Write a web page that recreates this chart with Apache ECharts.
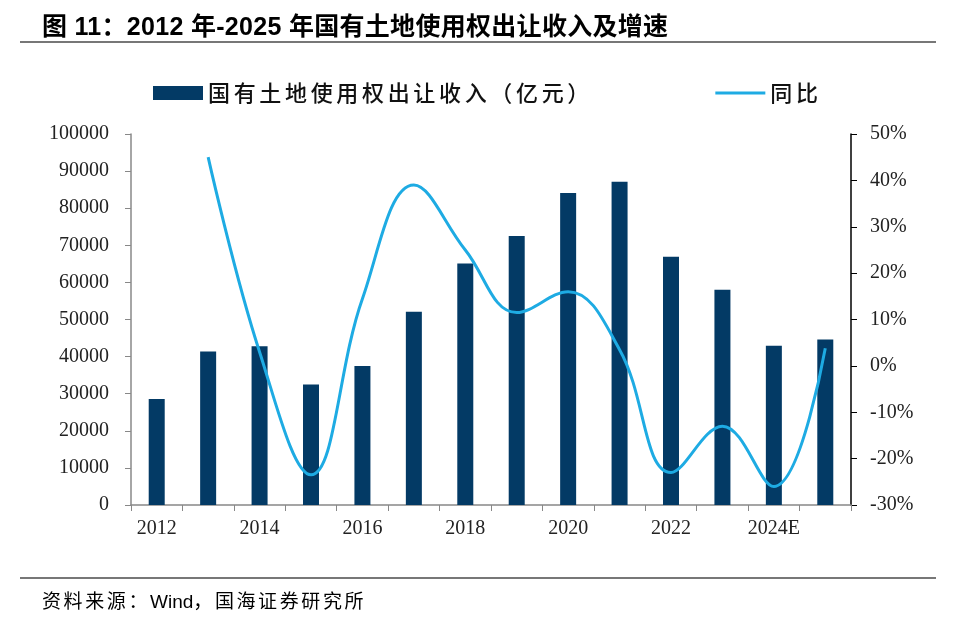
<!DOCTYPE html>
<html><head><meta charset="utf-8">
<script src="https://cdn.jsdelivr.net/npm/echarts@6/dist/echarts.min.js"></script>
<style>
html,body{margin:0;padding:0;background:#fff;}
#wrap{position:relative;width:960px;height:621px;}
#chart{position:absolute;left:0;top:0;width:960px;height:621px;}
.title{position:absolute;left:42px;top:6px;font-family:"Liberation Sans","Noto Sans CJK SC",sans-serif;font-weight:bold;font-size:25px;letter-spacing:0.3px;color:#000;}
.hl{position:absolute;left:20px;width:916px;height:2px;background:#777;}
.src{position:absolute;left:42px;top:586px;font-family:"Liberation Sans","Noto Sans CJK SC",sans-serif;font-size:19px;letter-spacing:2.6px;color:#000;}
.src span{letter-spacing:0;}
</style></head>
<body><div id="wrap">
<div id="chart"></div>
<div class="title">图 11：2012 年-2025 年国有土地使用权出让收入及增速</div>
<div class="hl" style="top:41px"></div>
<div class="hl" style="top:577px"></div>
<div class="src">资料来源：<span>Wind</span>，国海证券研究所</div>
</div>
<script>
const categories = ['2012','2013','2014','2015','2016','2017','2018','2019','2020','2021','2022','2023','2024E','2025E'];
const revenue = [28600, 41400, 42800, 32500, 37500, 52100, 65100, 72500, 84100, 87100, 66900, 58000, 42900, 44600];
const yoy = [null, 45, 3, -23.5, 14.5, 39, 25, 11.5, 16, 3.5, -23, -13, -26, 3.8];
const leftTicks = [0, 100000, 10000];
const rightTicks = [-30, 50, 10];
const seriesNames = ['国有土地使用权出让收入（亿元）', '同比'];

const chart = echarts.init(document.getElementById('chart'), null, {renderer:'canvas'});
const serif = '"Liberation Serif","Times New Roman",serif';
chart.setOption({
  animation:false,
  backgroundColor:'#fff',
  legend:{
    left:148, top:77, itemWidth:50, itemHeight:14, itemGap:126, symbolKeepAspect:true,
    formatter: n => n.split('').join('\u2006'),
    textStyle:{fontFamily:'"Noto Sans CJK SC",sans-serif', fontSize:22, fontWeight:500, color:'#111', padding:[0,0,0,0]},
    data:[{name:seriesNames[0], icon:'rect'}, {name:seriesNames[1], icon:'path://M0,0 L50,0 L50,3.2 L0,3.2 Z'}]
  },
  grid:{left:131, right:109, top:134, bottom:116, containLabel:false},
  xAxis:{
    type:'category', data:categories, boundaryGap:true,
    axisLine:{lineStyle:{color:'#888', width:1.5}},
    axisTick:{show:true, alignWithLabel:false, interval:0, length:6, lineStyle:{color:'#888'}},
    axisLabel:{interval:1, margin:14, fontFamily:serif, fontSize:20, color:'#222'}
  },
  yAxis:[{
    type:'value', min:leftTicks[0], max:leftTicks[1], interval:leftTicks[2],
    axisLine:{show:true, lineStyle:{color:'#888', width:1.5}},
    axisTick:{show:true, length:6, lineStyle:{color:'#888'}},
    splitLine:{show:false},
    axisLabel:{margin:22, fontFamily:serif, fontSize:20, color:'#222', formatter: v => String(v)}
  },{
    type:'value', position:'right', min:rightTicks[0], max:rightTicks[1], interval:rightTicks[2],
    axisLine:{show:true, lineStyle:{color:'#000', width:1.5}},
    axisTick:{show:true, length:6, lineStyle:{color:'#000'}},
    splitLine:{show:false},
    axisLabel:{margin:19, fontFamily:serif, fontSize:20, color:'#222', formatter:'{value}%'}
  }],
  series:[{
    name:seriesNames[0], type:'bar', data:revenue, barWidth:16,
    itemStyle:{color:'#033a65'}
  },{
    name:seriesNames[1], type:'line', yAxisIndex:1, data:yoy, smooth:0.4,
    showSymbol:false, symbol:'none', connectNulls:false,
    lineStyle:{color:'#1eabe3', width:3},
    itemStyle:{color:'#1eabe3'}
  }]
});
</script>
</body></html>
